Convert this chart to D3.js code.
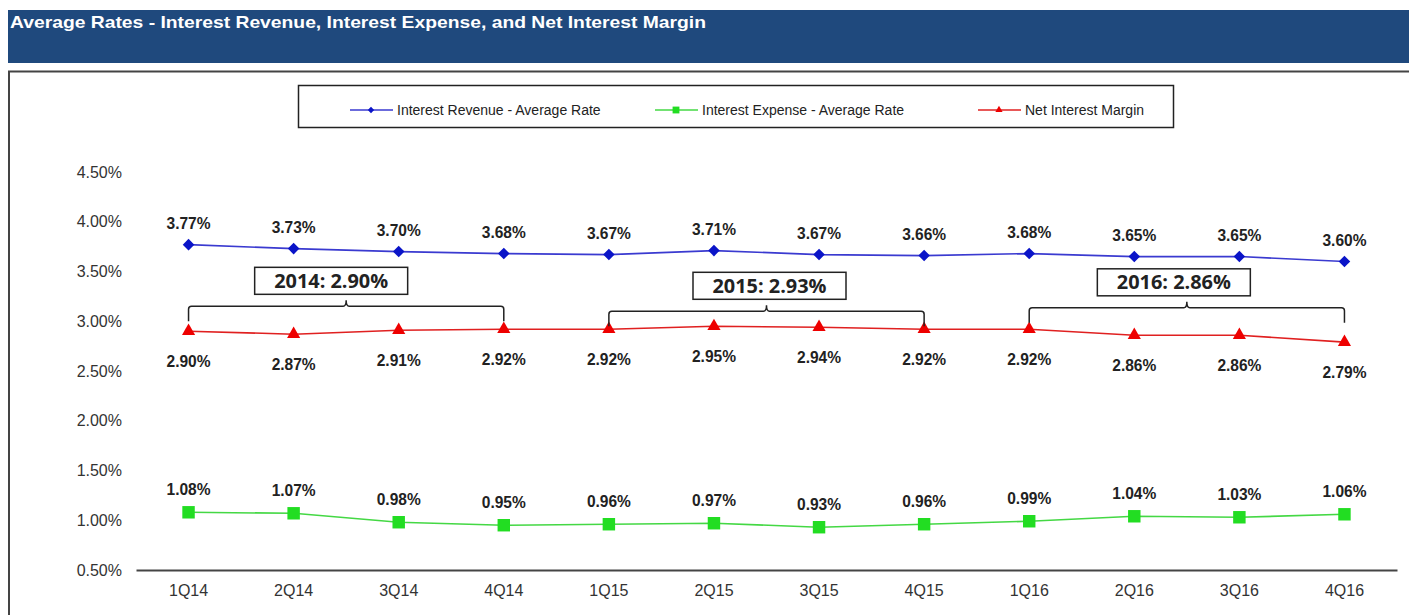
<!DOCTYPE html>
<html>
<head>
<meta charset="utf-8">
<script src="https://cdn.jsdelivr.net/npm/d3@7"></script>
<style>
  body { margin: 0; background: #fff; }
  svg { display: block; }
</style>
</head>
<body>
<div id="chart"></div>
<script>
// chart data
var quarters = ['1Q14', '2Q14', '3Q14', '4Q14', '1Q15', '2Q15', '3Q15', '4Q15', '1Q16', '2Q16', '3Q16', '4Q16'];
var revenueRate = [3.77, 3.73, 3.70, 3.68, 3.67, 3.71, 3.67, 3.66, 3.68, 3.65, 3.65, 3.60];
var expenseRate = [1.08, 1.07, 0.98, 0.95, 0.96, 0.97, 0.93, 0.96, 0.99, 1.04, 1.03, 1.06];
var netMargin = [2.90, 2.87, 2.91, 2.92, 2.92, 2.95, 2.94, 2.92, 2.92, 2.86, 2.86, 2.79];
var yTicks = [0.5, 1.0, 1.5, 2.0, 2.5, 3.0, 3.5, 4.0, 4.5];
var yearLabels = ['2014: 2.90%', '2015: 2.93%', '2016: 2.86%'];
var yearFrom = ['1Q14', '1Q15', '1Q16'];
var yearTo = ['4Q14', '4Q15', '4Q16'];
var yearBracketLevel = [3.15, 3.10, 3.135];

var W = 1409, H = 615;
var svg = d3.select('#chart').append('svg').attr('width', W).attr('height', H);

var fontMain = 'Arial, "Liberation Sans", sans-serif';

// header bar
svg.append('rect').attr('x', 8).attr('y', 10).attr('width', W - 8).attr('height', 53).attr('fill', '#1f497d');
svg.append('text').attr('x', 10).attr('y', 28)
  .attr('font-family', fontMain)
  .attr('font-weight', 'bold').attr('font-size', 17).attr('fill', '#fff')
  .attr('textLength', 696).attr('lengthAdjust', 'spacingAndGlyphs')
  .text('Average Rates - Interest Revenue, Interest Expense, and Net Interest Margin');

// frame
svg.append('path').attr('d', 'M9,' + (H + 2) + 'V71.5H' + (W + 2))
  .attr('fill', 'none').attr('stroke', '#444').attr('stroke-width', 2);

var x = d3.scaleBand().domain(quarters).range([136, 1397]);
var y = d3.scaleLinear().domain([0.5, 4.5]).range([570, 172]);
var cx = function (q) { return x(q) + x.bandwidth() / 2; };

// y axis labels (no axis line)
var yAxis = svg.append('g').attr('transform', 'translate(122,0)')
  .call(d3.axisLeft(y).tickValues(yTicks).tickSize(0).tickPadding(0));
yAxis.select('.domain').remove();
yAxis.selectAll('text').text(function (d) { return d3.format('.2f')(d) + '%'; })
  .attr('font-family', fontMain).attr('font-size', 16).attr('fill', '#333');

// x axis
var xAxis = svg.append('g').attr('transform', 'translate(0,570)')
  .call(d3.axisBottom(x).tickSize(0).tickPadding(15));
xAxis.select('.domain').attr('stroke', '#444').attr('stroke-width', 2);
xAxis.selectAll('text').attr('font-family', fontMain).attr('font-size', 16).attr('fill', '#333');

var series = [
  { name: 'Interest Revenue - Average Rate', values: revenueRate, line: '#3a3ad0', fill: '#0a14c8', sym: d3.symbolDiamond2, size: 85, labelDy: -16 },
  { name: 'Interest Expense - Average Rate', values: expenseRate, line: '#44d844', fill: '#22dd22', sym: d3.symbolSquare, size: 155, labelDy: -17 },
  { name: 'Net Interest Margin', values: netMargin, line: '#e02020', fill: '#ee0000', sym: d3.symbolTriangle, size: 75, labelDy: 36 }
];

var line = d3.line().x(function (d, i) { return cx(quarters[i]); }).y(function (d) { return y(d); });

series.forEach(function (s) {
  var g = svg.append('g');
  g.append('path').datum(s.values).attr('d', line)
    .attr('fill', 'none').attr('stroke', s.line).attr('stroke-width', 1.6);
  g.selectAll('path.m').data(s.values).enter().append('path').attr('class', 'm')
    .attr('transform', function (d, i) { return 'translate(' + cx(quarters[i]) + ',' + y(d) + ')'; })
    .attr('d', d3.symbol().type(s.sym).size(s.size))
    .attr('fill', s.fill);
  g.selectAll('text').data(s.values).enter().append('text')
    .attr('x', function (d, i) { return cx(quarters[i]); })
    .attr('y', function (d) { return y(d) + s.labelDy; })
    .attr('text-anchor', 'middle')
    .attr('font-family', fontMain).attr('font-weight', 'bold').attr('font-size', 16).attr('fill', '#222')
    .attr('textLength', 44).attr('lengthAdjust', 'spacingAndGlyphs')
    .text(function (d) { return d3.format('.2f')(d) + '%'; });
});

// yearly brackets and boxes (box slightly off-centre, as in the source slide)
var boxNudge = [-15, 3, -13];
yearLabels.forEach(function (lbl, k) {
  var x0 = cx(yearFrom[k]), x1 = cx(yearTo[k]);
  var yb = y(yearBracketLevel[k]);
  var mid = (x0 + x1) / 2;
  var drop = 15;
  var d = 'M' + x0 + ',' + (yb + drop) + 'V' + (yb + 3) + 'Q' + x0 + ',' + yb + ' ' + (x0 + 3) + ',' + yb +
    'H' + (mid - 3) + 'Q' + mid + ',' + yb + ' ' + mid + ',' + (yb - 6) +
    'Q' + mid + ',' + yb + ' ' + (mid + 3) + ',' + yb +
    'H' + (x1 - 3) + 'Q' + x1 + ',' + yb + ' ' + x1 + ',' + (yb + 3) + 'V' + (yb + drop);
  svg.append('path').attr('d', d).attr('fill', 'none').attr('stroke', '#222').attr('stroke-width', 1.5);
  var bw = 153, bh = 27, bx = mid + boxNudge[k];
  svg.append('rect').attr('x', bx - bw / 2).attr('y', yb - 12 - bh).attr('width', bw).attr('height', bh)
    .attr('fill', '#fff').attr('stroke', '#222').attr('stroke-width', 1.5);
  svg.append('text').attr('x', bx).attr('y', yb - 12 - bh / 2 + 7).attr('text-anchor', 'middle')
    .attr('font-family', '"Open Sans", "Liberation Sans", sans-serif').attr('font-weight', 'bold')
    .attr('font-size', 19).attr('fill', '#222')
    .attr('textLength', 114).attr('lengthAdjust', 'spacingAndGlyphs')
    .text(lbl);
});

// legend
var legend = svg.append('g');
legend.append('rect').attr('x', 298.5).attr('y', 85.5).attr('width', 875).attr('height', 42)
  .attr('fill', '#fff').attr('stroke', '#222').attr('stroke-width', 1.5);
var legendX = [350, 655, 978];
series.forEach(function (s, i) {
  var lx = legendX[i], ly = 110;
  legend.append('line').attr('x1', lx).attr('x2', lx + 43).attr('y1', ly).attr('y2', ly)
    .attr('stroke', s.line).attr('stroke-width', 1.5);
  legend.append('path').attr('transform', 'translate(' + (lx + 21) + ',' + ly + ')')
    .attr('d', d3.symbol().type(s.sym).size(s.size * 0.3)).attr('fill', s.fill);
  legend.append('text').attr('x', lx + 47).attr('y', ly + 5)
    .attr('font-family', fontMain)
    .attr('font-size', 14).attr('fill', '#222').text(s.name);
});
</script>
</body>
</html>
